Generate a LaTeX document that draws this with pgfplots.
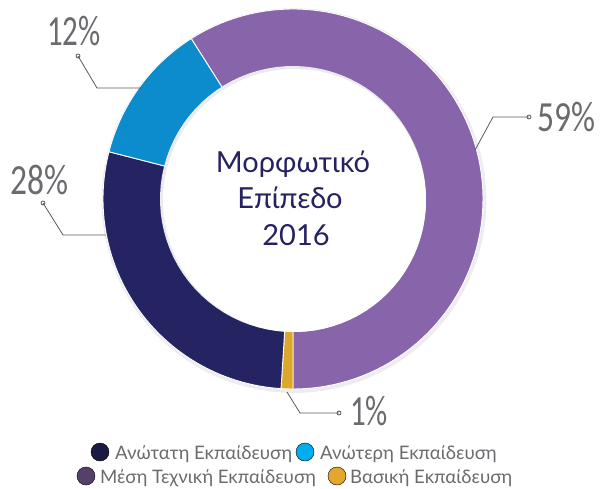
\documentclass[border=0pt]{standalone}
\usepackage{pgfplots}
\usepackage{pgfplotstable}
\pgfplotsset{compat=1.18}
\usepackage{fontspec}
\setmainfont{Carlito}
\newfontfamily\latofont{Lato}
\definecolor{cPurple}{HTML}{8864AA}
\definecolor{cNavy}{HTML}{252462}
\definecolor{cBlue}{HTML}{0C8BCD}
\definecolor{cGold}{HTML}{DDA829}
\definecolor{lNavy}{HTML}{1B1A40}
\definecolor{lBlue}{HTML}{00AEEF}
\definecolor{lPurple}{HTML}{553F6B}
\definecolor{lGold}{HTML}{E2A72C}
\definecolor{txtGray}{HTML}{6A6B6E}
\definecolor{lineGray}{HTML}{5A5A5A}
\definecolor{titleNavy}{HTML}{262262}
\pgfplotstableread{
name pct
Mesi 59
Vasiki 1
Anotati 28
Anoteri 12
}\pietable
\begin{document}%
\begin{tikzpicture}
\pgfplotstablegetelem{0}{pct}\of\pietable\pgfmathsetmacro\pA{\pgfplotsretval}
\pgfplotstablegetelem{1}{pct}\of\pietable\pgfmathsetmacro\pB{\pgfplotsretval}
\pgfplotstablegetelem{2}{pct}\of\pietable\pgfmathsetmacro\pC{\pgfplotsretval}
\pgfplotstablegetelem{3}{pct}\of\pietable\pgfmathsetmacro\pD{\pgfplotsretval}
\pgfmathsetmacro\aA{-90+3.6*\pA}
\pgfmathsetmacro\aB{-90-3.6*\pB}
\pgfmathsetmacro\aC{\aB-3.6*\pC}
\pgfmathsetmacro\aD{\aC-3.6*\pD}
\begin{axis}[
  scale only axis, width=600bp, height=488bp,
  xmin=0, xmax=600, ymin=0, ymax=488,
  hide axis, clip=false,
  samples=90,
]
\coordinate (bl) at (axis cs:0,0);
\coordinate (tr) at (axis cs:600,488);
% subtle shadow
\addplot[fill=black!7, draw=none, domain=0:360] ({294+192.5*cos(x)},{287.5+192.5*sin(x)}) -- cycle;
% slices
\addplot[fill=cPurple, draw=white, line width=0.9pt, domain=-90:\aA] ({293+190*cos(x)},{289+190*sin(x)}) -- (axis cs:293,289) -- cycle;
\addplot[fill=cGold, draw=white, line width=0.9pt, domain=\aB:-90] ({293+190*cos(x)},{289+190*sin(x)}) -- (axis cs:293,289) -- cycle;
\addplot[fill=cNavy, draw=white, line width=0.9pt, domain=\aC:\aB] ({293+190*cos(x)},{289+190*sin(x)}) -- (axis cs:293,289) -- cycle;
\addplot[fill=cBlue, draw=white, line width=0.9pt, domain=\aD:\aC] ({293+190*cos(x)},{289+190*sin(x)}) -- (axis cs:293,289) -- cycle;
% hole
\addplot[fill=black!8, draw=none, domain=0:360] ({293+133*cos(x)},{289+133*sin(x)}) -- cycle;
\addplot[fill=white, draw=none, domain=0:360] ({294.5+131.5*cos(x)},{287.5+131.5*sin(x)}) -- cycle;
% leader lines
\addplot[lineGray, line width=0.8pt] coordinates {(475,338) (493,371) (529,371)};
\addplot[lineGray, line width=0.8pt] coordinates {(78,432) (97,400) (141,400)};
\addplot[lineGray, line width=0.8pt] coordinates {(43,285) (63,253) (106,253)};
\addplot[lineGray, line width=0.8pt] coordinates {(287,96) (300,75) (339,75)};
\addplot[only marks, mark=o, mark size=2pt, mark options={draw=lineGray, fill=white, line width=0.8pt}] coordinates {(529,371) (78,432) (43,285) (339,75)};
% labels
\begin{scope}[every node/.style={inner sep=0pt, text=txtGray, font=\fontsize{43bp}{50bp}\selectfont}]
\node[anchor=base west] at (axis cs:537,356) {\scalebox{0.78}[1]{59\%}};
\node[anchor=base west] at (axis cs:47,442) {\scalebox{0.72}[1]{12\%}};
\node[anchor=base west] at (axis cs:10,293) {\scalebox{0.78}[1]{28\%}};
\node[anchor=base west] at (axis cs:350,63) {\scalebox{0.72}[1]{1\%}};
\end{scope}
% title
\begin{scope}[every node/.style={inner sep=0pt, text=titleNavy, font=\latofont\fontsize{29bp}{34bp}\selectfont, anchor=base}]
\node at (axis cs:293,315) {Μορφωτικό};
\node at (axis cs:290,279) {Επίπεδο};
\node at (axis cs:296,243) {2016};
\end{scope}
% legend
\addplot[only marks, mark=*, mark size=9bp, mark options={draw=none, fill=lNavy}] coordinates {(100,36)};
\addplot[only marks, mark=*, mark size=9bp, mark options={draw=none, fill=lBlue}] coordinates {(305,36)};
\addplot[only marks, mark=*, mark size=9bp, mark options={draw=none, fill=lPurple}] coordinates {(86,12)};
\addplot[only marks, mark=*, mark size=9bp, mark options={draw=none, fill=lGold}] coordinates {(337,12)};
\begin{scope}[every node/.style={inner sep=0pt, text=txtGray, font=\latofont\fontsize{18.6bp}{24bp}\selectfont, anchor=base west}]
\node at (axis cs:115,29) {Ανώτατη Εκπαίδευση};
\node at (axis cs:320,29) {Ανώτερη Εκπαίδευση};
\node at (axis cs:100,5) {Μέση Τεχνική Εκπαίδευση};
\node at (axis cs:350,5) {Βασική Εκπαίδευση};
\end{scope}
\end{axis}
\pgfresetboundingbox
\path (bl) rectangle (tr);
\end{tikzpicture}%
\end{document}
